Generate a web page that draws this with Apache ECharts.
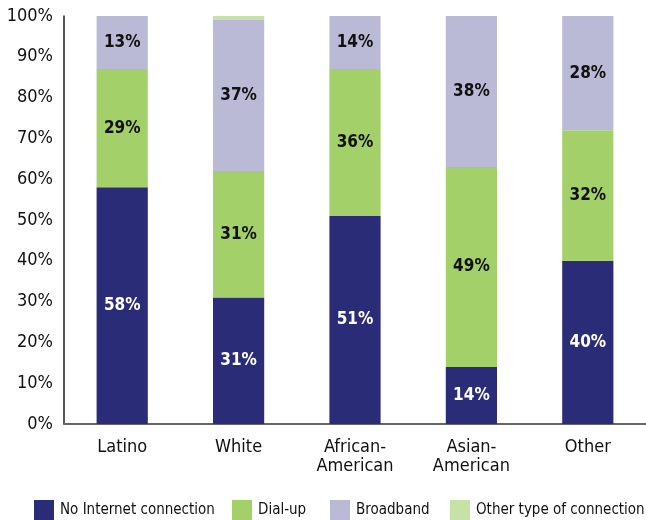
<!DOCTYPE html>
<html>
<head>
<meta charset="utf-8">
<script src="https://cdn.jsdelivr.net/npm/echarts@6/dist/echarts.min.js"></script>
<style>
  html, body { margin: 0; padding: 0; background: #fff; }
  #chart { width: 646px; height: 520px; }
</style>
</head>
<body>
<div id="chart"></div>
<script>
// Home internet connection type by group (percent of households)
const categories = ['Latino', 'White', 'African-\nAmerican', 'Asian-\nAmerican', 'Other'];
const noInternet = [58, 31, 51, 14, 40];
const dialUp = [29, 31, 36, 49, 32];
const broadband = [13, 37, 14, 38, 28];
const otherType = [0, 1, 0, 0, 0];
const yTicks = [0, 10, 20, 30, 40, 50, 60, 70, 80, 90, 100];
const seriesNames = ['No Internet connection', 'Dial-up', 'Broadband', 'Other type of connection'];

const FONT = '"DejaVu Sans Condensed", "Liberation Sans Narrow", "Roboto", sans-serif';
const colors = ['#2b2c78', '#a4d06a', '#bbbad6', '#c6e2a6'];

function labelFor(color) {
  return {
    show: true,
    position: 'inside',
    formatter: p => p.value > 0 ? p.value + '%' : '',
    color: color,
    fontFamily: FONT,
    fontWeight: 'bold',
    fontSize: 17
  };
}

// one legend per entry so each sits at its own spot along the bottom row
const legendLeft = [34, 232, 330, 450];
const legends = seriesNames.map((name, i) => ({
  left: legendLeft[i],
  top: 500,
  itemWidth: 20,
  itemHeight: 20,
  itemGap: 0,
  padding: 0,
  icon: 'rect',
  selectedMode: false,
  textStyle: { fontFamily: FONT, fontSize: 15, color: '#111', padding: [2, 0, 0, 1] },
  data: [name]
}));

const chart = echarts.init(document.getElementById('chart'), null, { renderer: 'canvas' });
chart.setOption({
  animation: false,
  color: colors,
  textStyle: { fontFamily: FONT },
  grid: { left: 64, right: -8, top: 16, bottom: 96, containLabel: false },
  legend: legends,
  xAxis: {
    type: 'category',
    data: categories,
    axisLine: { lineStyle: { color: '#666', width: 2 } },
    axisTick: { show: false },
    axisLabel: {
      fontFamily: FONT, fontSize: 18, color: '#111', margin: 14, lineHeight: 19
    }
  },
  yAxis: {
    type: 'value',
    min: yTicks[0],
    max: yTicks[yTicks.length - 1],
    interval: yTicks[1] - yTicks[0],
    axisLine: { show: true, lineStyle: { color: '#222', width: 1.5 } },
    axisTick: { show: false },
    splitLine: { show: false },
    axisLabel: {
      formatter: '{value}%',
      fontFamily: FONT, fontSize: 18, color: '#111', margin: 11
    }
  },
  series: [
    { name: seriesNames[0], type: 'bar', stack: 'all', data: noInternet,
      barWidth: '44%', label: labelFor('#fff') },
    { name: seriesNames[1], type: 'bar', stack: 'all', data: dialUp,
      label: labelFor('#111') },
    { name: seriesNames[2], type: 'bar', stack: 'all', data: broadband,
      label: labelFor('#111') },
    { name: seriesNames[3], type: 'bar', stack: 'all', data: otherType,
      label: { show: false } }
  ]
});
</script>
</body>
</html>
